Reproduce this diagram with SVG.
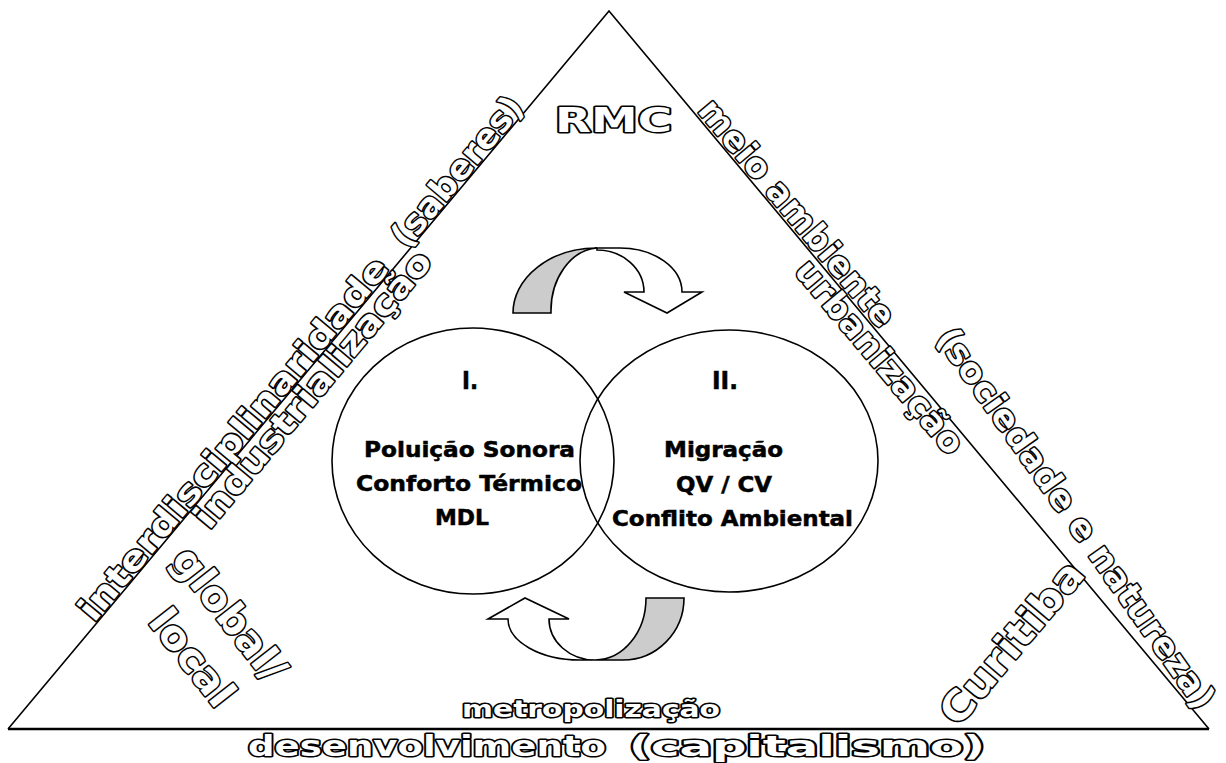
<svg xmlns="http://www.w3.org/2000/svg" width="1226" height="763" viewBox="0 0 1226 763">
<style>
.wa{font-family:"DejaVu Sans","Liberation Sans",sans-serif;font-weight:bold;fill:#fff;stroke:#000;stroke-width:3;stroke-linejoin:round;paint-order:stroke}
.ct{font-family:"DejaVu Sans","Liberation Sans",sans-serif;font-weight:bold;fill:#000;stroke:#000;stroke-width:0.5;font-size:21px}
.edge{fill:none;stroke:#000;stroke-width:1.6}
.arr{stroke:#000;stroke-width:1.6;stroke-linejoin:miter}
</style>
<rect width="1226" height="763" fill="#fff"/>
<g id="triangle">
<polyline class="edge" points="8,729 609,11 1209,729"/>
<line x1="8" y1="729" x2="1209" y2="729" stroke="#000" stroke-width="2.6"/>
</g>
<g id="circle-I">
<ellipse cx="473" cy="461" rx="141" ry="133" class="edge"/>
<text class="ct" x="462" y="389" textLength="16" lengthAdjust="spacingAndGlyphs" style="font-size:25px">I.</text>
<text class="ct" x="364" y="457" textLength="211" lengthAdjust="spacingAndGlyphs">Poluição Sonora</text>
<text class="ct" x="356" y="491" textLength="226" lengthAdjust="spacingAndGlyphs">Conforto Térmico</text>
<text class="ct" x="435" y="525" textLength="54" lengthAdjust="spacingAndGlyphs">MDL</text>
</g>
<g id="circle-II">
<ellipse cx="729" cy="461" rx="149" ry="131" class="edge"/>
<text class="ct" x="712" y="389" textLength="26" lengthAdjust="spacingAndGlyphs" style="font-size:25px">II.</text>
<text class="ct" x="664" y="457" textLength="119" lengthAdjust="spacingAndGlyphs">Migração</text>
<text class="ct" x="676" y="492" textLength="96" lengthAdjust="spacingAndGlyphs">QV / CV</text>
<text class="ct" x="612" y="526" textLength="241" lengthAdjust="spacingAndGlyphs">Conflito Ambiental</text>
</g>
<g id="connectors">
<g id="arrow-top">
<path class="arr" fill="#fff" d="M597,248 L620,248 A62,44 0 0 1 682,292 L702,292 L667,313 L624,292 L644,292 A47,42 0 0 0 597,250 Z"/>
<path class="arr" fill="#ccc" d="M513,313 A84,65 0 0 1 597,248 A49,63 0 0 0 551,313 Z"/>
</g>
<g id="arrow-bottom">
<path class="arr" fill="#fff" d="M595,660 L580,660 A72,41 0 0 1 508,619 L488,619 L525,598 L569,619 L549,619 A46,41 0 0 0 595,660 Z"/>
<path class="arr" fill="#ccc" d="M646,598 L684,598 A61,62 0 0 1 623,660 L595,660 A51,62 0 0 0 646,598 Z"/>
</g>
</g>
<g id="label-rmc"><text class="wa" x="555" y="132" font-size="33" textLength="117" lengthAdjust="spacingAndGlyphs">RMC</text></g>
<g id="label-metropolizacao"><text class="wa" x="462" y="717" font-size="23" textLength="258" lengthAdjust="spacingAndGlyphs">metropolização</text></g>
<g id="label-desenvolvimento">
<text class="wa" x="248" y="756" font-size="28" textLength="358" lengthAdjust="spacingAndGlyphs">desenvolvimento</text>
<text class="wa" x="629" y="756" font-size="28" textLength="356" lengthAdjust="spacingAndGlyphs">(capitalismo)</text>
</g>
<g id="label-meio-ambiente">
<text class="wa" font-size="34" transform="translate(696.7,111.1) rotate(50.07)" textLength="285" lengthAdjust="spacingAndGlyphs">meio ambiente</text>
<text class="wa" font-size="34" transform="translate(935,338) rotate(54.9)" textLength="457" lengthAdjust="spacingAndGlyphs">(sociedade e natureza)</text>
</g>
<g id="label-urbanizacao"><text class="wa" font-size="34" transform="translate(793.3,271.6) rotate(50.07)" textLength="242" lengthAdjust="spacingAndGlyphs">urbanização</text></g>
<g id="label-interdisciplinaridade">
<text class="wa" font-size="34" transform="translate(93.9,623.3) rotate(-50.07)" textLength="462" lengthAdjust="spacingAndGlyphs">interdisciplinaridade</text>
<text class="wa" font-size="34" transform="translate(406.5,249.7) rotate(-50.07)" textLength="185" lengthAdjust="spacingAndGlyphs">(saberes)</text>
</g>
<g id="label-industrializacao"><text class="wa" font-size="34" transform="translate(209.2,530.7) rotate(-50.07)" textLength="350" lengthAdjust="spacingAndGlyphs">industrialização</text></g>
<g id="label-global-local">
<text class="wa" font-size="40" transform="translate(170,560) rotate(52)" textLength="158" lengthAdjust="spacingAndGlyphs">global/</text>
<text class="wa" font-size="40" transform="translate(147,622) rotate(52)" textLength="112" lengthAdjust="spacingAndGlyphs">local</text>
</g>
<g id="label-curitiba"><text class="wa" font-size="40" transform="translate(958,728) rotate(-50)" textLength="200" lengthAdjust="spacingAndGlyphs">Curitiba</text></g>
</svg>
